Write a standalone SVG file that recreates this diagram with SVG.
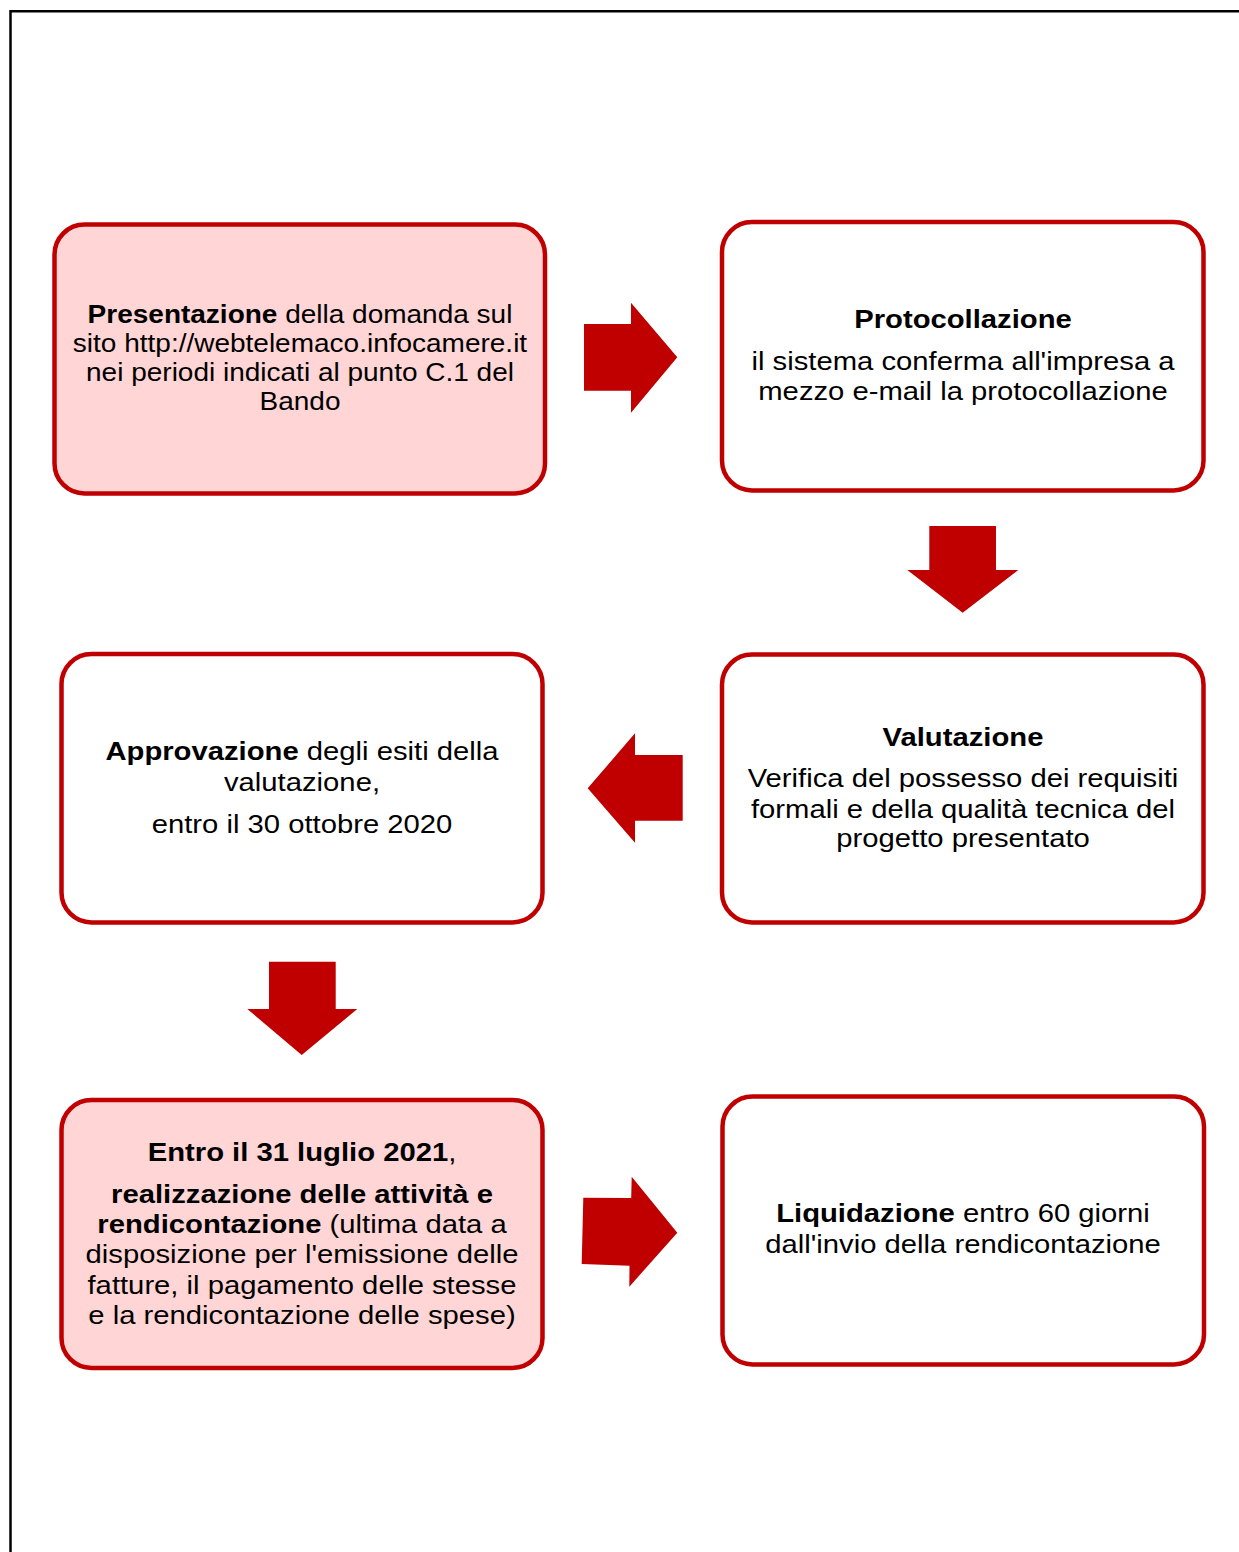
<svg xmlns="http://www.w3.org/2000/svg" width="1239" height="1552" viewBox="0 0 1239 1552">
<style>
.box{stroke:#C00000;stroke-width:4.5;fill:#FFFFFF}
.pink{fill:#FFD5D5}
.t{font-family:"Liberation Sans",Arial,sans-serif;font-size:26px;fill:#000;text-anchor:middle}
.s{font-size:25.3px}
.b{font-weight:bold}
.arr{fill:#C00000}
</style>
<rect x="0" y="0" width="1239" height="1552" fill="#FFFFFF"/>
<g id="frame" stroke="#000" stroke-width="2.5" fill="none">
<line x1="10.5" y1="11.2" x2="1239" y2="11.2"/>
<line x1="10.5" y1="10" x2="10.5" y2="1552"/>
</g>
<g id="node-presentazione">
<rect class="box pink" x="54.5" y="224.5" width="490.5" height="269" rx="30"/>
<g transform="translate(300 0) scale(1.107 1)">
<text class="t s" x="0" y="323"><tspan class="b">Presentazione</tspan> della domanda sul</text>
<text class="t s" x="0" y="352">sito http://webtelemaco.infocamere.it</text>
<text class="t s" x="0" y="381">nei periodi indicati al punto C.1 del</text>
<text class="t s" x="0" y="410">Bando</text>
</g>
</g>
<g id="node-protocollazione">
<rect class="box" x="722" y="222" width="481.5" height="268.5" rx="30"/>
<g transform="translate(963 0) scale(1.125 1)">
<text class="t b" x="0" y="328">Protocollazione</text>
<text class="t" x="0" y="370">il sistema conferma all'impresa a</text>
<text class="t" x="0" y="400.5">mezzo e-mail la protocollazione</text>
</g>
</g>
<g id="node-approvazione">
<rect class="box" x="61.5" y="654" width="481" height="268.5" rx="30"/>
<g transform="translate(302 0) scale(1.125 1)">
<text class="t" x="0" y="760"><tspan class="b">Approvazione</tspan> degli esiti della</text>
<text class="t" x="0" y="791.5">valutazione,</text>
<text class="t" x="0" y="833">entro il 30 ottobre 2020</text>
</g>
</g>
<g id="node-valutazione">
<rect class="box" x="722" y="654.5" width="481.5" height="268" rx="30"/>
<g transform="translate(963 0) scale(1.125 1)">
<text class="t b" x="0" y="746">Valutazione</text>
<text class="t" x="0" y="787.5">Verifica del possesso dei requisiti</text>
<text class="t" x="0" y="818">formali e della qualità tecnica del</text>
<text class="t" x="0" y="847">progetto presentato</text>
</g>
</g>
<g id="node-realizzazione">
<rect class="box pink" x="61.5" y="1100" width="481" height="268" rx="30"/>
<g transform="translate(302 0) scale(1.125 1)">
<text class="t" x="0" y="1161"><tspan class="b">Entro il 31 luglio 2021</tspan>,</text>
<text class="t b" x="0" y="1203">realizzazione delle attività e</text>
<text class="t" x="0" y="1233"><tspan class="b">rendicontazione</tspan> (ultima data a</text>
<text class="t" x="0" y="1263">disposizione per l'emissione delle</text>
<text class="t" x="0" y="1294">fatture, il pagamento delle stesse</text>
<text class="t" x="0" y="1324">e la rendicontazione delle spese)</text>
</g>
</g>
<g id="node-liquidazione">
<rect class="box" x="722.5" y="1096.5" width="481.5" height="268" rx="30"/>
<g transform="translate(963 0) scale(1.125 1)">
<text class="t" x="0" y="1222"><tspan class="b">Liquidazione</tspan> entro 60 giorni</text>
<text class="t" x="0" y="1253">dall'invio della rendicontazione</text>
</g>
</g>
<g id="connectors">
<polygon class="arr" points="584,324 631,324 631,302.7 677.3,357.3 631,412.7 631,390.7 584,390.7"/>
<polygon class="arr" points="929.3,526 996,526 996,570 1018.3,570 962.7,612.7 907.3,570 929.3,570"/>
<polygon class="arr" points="682.7,755 635,755 635,733.3 587.7,788.3 635,842.7 635,820.7 682.7,820.7"/>
<polygon class="arr" points="269,961.7 335.7,961.7 335.7,1009 357.3,1009 301.7,1055 247.3,1009 269,1009"/>
<polygon class="arr" points="583.3,1197.7 631.2,1198 631.7,1176.7 677.3,1232.7 629.3,1286.7 629.5,1265.7 581.7,1264"/>
</g>
</svg>
